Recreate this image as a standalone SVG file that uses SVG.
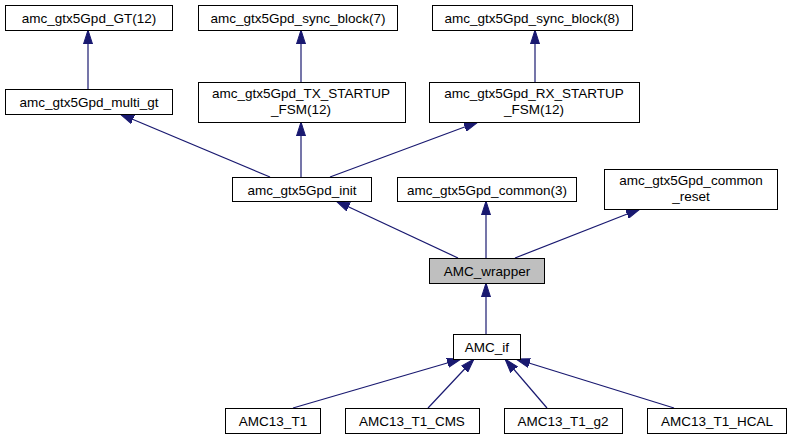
<svg xmlns="http://www.w3.org/2000/svg" width="791" height="440" viewBox="0 0 791 440">
<style>
.n rect{fill:#fff;stroke:#000;stroke-width:1}
.n text{font-family:"Liberation Sans",Arial,sans-serif;font-size:13.5px;text-anchor:middle;fill:#000}
#edges line{stroke:#191970;stroke-width:1.2;marker-end:url(#ah)}
</style>
<defs>
<marker id="ah" viewBox="0 0 14 10" refX="14" refY="5" markerWidth="14" markerHeight="10" markerUnits="userSpaceOnUse" orient="auto">
<path d="M0,0.5 L14,5 L0,9.5 Z" fill="#191970" stroke="#191970"/>
</marker>
</defs>
<rect width="791" height="440" fill="#fff"/>
<g id="edges">
<line x1="88" y1="89" x2="88" y2="30"/>
<line x1="301" y1="82" x2="301" y2="30"/>
<line x1="535" y1="82" x2="535" y2="30"/>
<line x1="270" y1="177" x2="120" y2="114"/>
<line x1="301" y1="177" x2="301" y2="122"/>
<line x1="330" y1="177" x2="478" y2="122"/>
<line x1="458" y1="258" x2="336" y2="201"/>
<line x1="486" y1="258" x2="486" y2="201"/>
<line x1="515" y1="258" x2="640" y2="209"/>
<line x1="486" y1="334" x2="486" y2="283"/>
<line x1="293" y1="408" x2="461" y2="359"/>
<line x1="428" y1="408" x2="474" y2="359"/>
<line x1="547" y1="408" x2="505" y2="359"/>
<line x1="674" y1="408" x2="516" y2="359"/>
</g>
<g id="n_gt" class="n"><rect x="5.5" y="5.5" width="167" height="25"/><text x="89" y="22.5">amc_gtx5Gpd_GT(12)</text></g>
<g id="n_sync7" class="n"><rect x="198.5" y="5.5" width="199" height="25"/><text x="298" y="22.5">amc_gtx5Gpd_sync_block(7)</text></g>
<g id="n_sync8" class="n"><rect x="432.5" y="5.5" width="200" height="25"/><text x="532" y="22.5">amc_gtx5Gpd_sync_block(8)</text></g>
<g id="n_multi" class="n"><rect x="5.5" y="89.5" width="167" height="25"/><text x="89" y="106.5">amc_gtx5Gpd_multi_gt</text></g>
<g id="n_tx" class="n"><rect x="198.5" y="82.5" width="207" height="40"/><text x="301" y="98">amc_gtx5Gpd_TX_STARTUP</text><text x="301" y="114">_FSM(12)</text></g>
<g id="n_rx" class="n"><rect x="429.5" y="82.5" width="210" height="40"/><text x="534" y="98">amc_gtx5Gpd_RX_STARTUP</text><text x="534" y="114">_FSM(12)</text></g>
<g id="n_init" class="n"><rect x="232.5" y="177.5" width="139" height="24"/><text x="302" y="194.5">amc_gtx5Gpd_init</text></g>
<g id="n_common" class="n"><rect x="397.5" y="177.5" width="179" height="24"/><text x="487" y="194.5">amc_gtx5Gpd_common(3)</text></g>
<g id="n_reset" class="n"><rect x="604.5" y="169.5" width="173" height="40"/><text x="691" y="185">amc_gtx5Gpd_common</text><text x="691" y="201">_reset</text></g>
<g id="n_wrapper" class="n"><rect x="429.5" y="258.5" width="115" height="25" style="fill:#bfbfbf"/><text x="487" y="275.5">AMC_wrapper</text></g>
<g id="n_if" class="n"><rect x="453.5" y="334.5" width="67" height="25"/><text x="487" y="351.5">AMC_if</text></g>
<g id="n_t1" class="n"><rect x="225.5" y="408.5" width="95" height="25"/><text x="273" y="425.5">AMC13_T1</text></g>
<g id="n_cms" class="n"><rect x="345.5" y="408.5" width="134" height="25"/><text x="412" y="425.5">AMC13_T1_CMS</text></g>
<g id="n_g2" class="n"><rect x="504.5" y="408.5" width="118" height="25"/><text x="563" y="425.5">AMC13_T1_g2</text></g>
<g id="n_hcal" class="n"><rect x="647.5" y="408.5" width="139" height="25"/><text x="717" y="425.5">AMC13_T1_HCAL</text></g>
</svg>
